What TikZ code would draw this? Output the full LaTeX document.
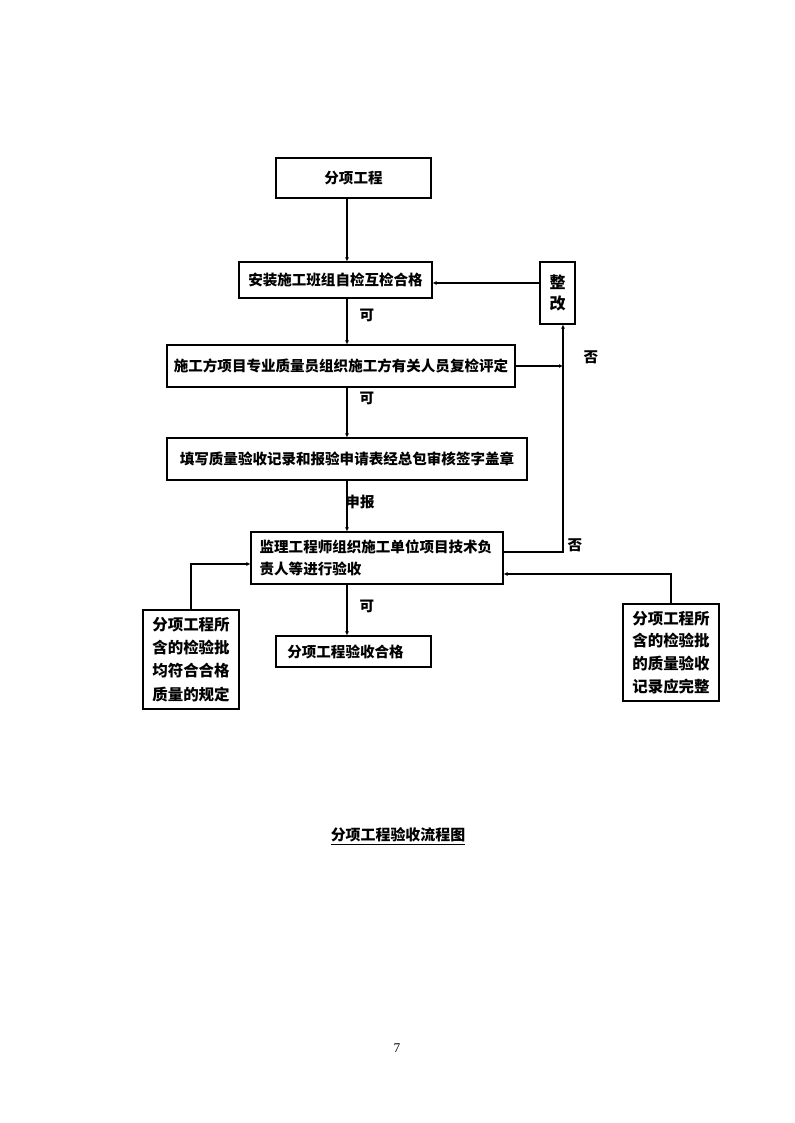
\documentclass[tikz,border=0pt]{standalone}
\usepackage{fontspec}
\setmainfont{Noto Sans CJK SC}
\newfontfamily\numfont{Liberation Serif}
\usetikzlibrary{arrows.meta,calc}

\begin{document}
\begin{tikzpicture}[x=0.75pt,y=-0.75pt,
  box/.style={draw,line width=0.8pt,inner sep=0pt,align=center,font=\fontsize{10.9}{16}\selectfont\bfseries},
  flow/.style={line width=1.3pt,-{Latex[length=3pt,width=3pt]}},
  back/.style={line width=0.8pt,-{Latex[length=3pt,width=3pt]}},
  tag/.style={font=\fontsize{10.9}{12}\selectfont\bfseries}]
\useasboundingbox (0,0) rectangle (794,1123);

% main column
\coordinate (axis) at (347,0);
\coordinate (rt) at (563,0);

\node[box,minimum width=116.25pt,minimum height=30pt] (fx) at (353.5,178) {分项工程};
\node[box,minimum width=144.75pt,minimum height=27pt] (zj) at (335.5,280) {安装施工班组自检互检合格};
\node[box,minimum width=26.25pt,minimum height=46.5pt,font=\fontsize{12}{15.5}\selectfont\bfseries] (zg) at (557.5,293) {整\\改};
\node[box,minimum width=261pt,minimum height=31.5pt] (fj) at (341,366) {施工方项目专业质量员组织施工方有关人员复检评定};
\node[box,minimum width=270pt,minimum height=31.5pt] (tx) at (347,459) {填写质量验收记录和报验申请表经总包审核签字盖章};
\node[box,minimum width=189pt,minimum height=39pt,text width=176pt,align=left] (jl) at (377,558) {监理工程师组织施工单位项目技术负\\责人等进行验收};
\node[box,minimum width=116.25pt,minimum height=23.25pt] (hg) at (353.5,651.5) {\hspace*{-12pt}分项工程验收合格};
\node[box,minimum width=72pt,minimum height=74.25pt,font=\fontsize{11.6}{17.5}\selectfont\bfseries] (lb) at (191,659.5) {分项工程所\\含的检验批\\均符合合格\\质量的规定};
\node[box,minimum width=72pt,minimum height=72.75pt,font=\fontsize{11.6}{17}\selectfont\bfseries] (rb) at (671,652.5) {分项工程所\\含的检验批\\的质量验收\\记录应完整};

% connectors
\draw[flow] (fx.south -| axis) -- (zj.north -| axis);
\draw[flow] (zj.south -| axis) -- (fj.north -| axis);
\draw[flow] (fj.south -| axis) -- (tx.north -| axis);
\draw[flow] (tx.south -| axis) -- (jl.north -| axis);
\draw[flow] (jl.south -| axis) -- (hg.north -| axis);

\node[tag] (k1) at (367,315) {可};
\node[tag] (k2) at (367,398) {可};
\node[tag] (sb) at (360,502) {申报};
\node[tag] (k3) at (367,606) {可};

\draw[back] (fj.east) -- (fj.east -| rt);
\draw[line width=1.3pt] ($(jl.east)+(0,-6)$) -| (rt |- jl.north);
\draw[flow] (rt |- jl.north) -- (zg.south -| rt);
\draw[back] (zg.west |- zj.east) ++(0,3) coordinate (zw) -- (zw -| zj.east);
\node[tag] (f1) at (591,357) {否};
\node[tag] (f2) at (575,545) {否};

\draw[line width=1.2pt] (lb.north) |- ($(jl.west)+(-30,6)$) coordinate (lw);
\draw[flow] (lw) -- (lw -| jl.west);
\draw[back] (rb.north) |- ($(jl.east)+(0,16)$);

% caption
\node[font=\fontsize{11.2}{12}\selectfont\bfseries] (cap) at (398,836) {\underline{分项工程验收流程图}};
\node[font=\fontsize{10}{12}\selectfont\numfont] (pg) at (397,1048) {7};
\end{tikzpicture}
\end{document}
